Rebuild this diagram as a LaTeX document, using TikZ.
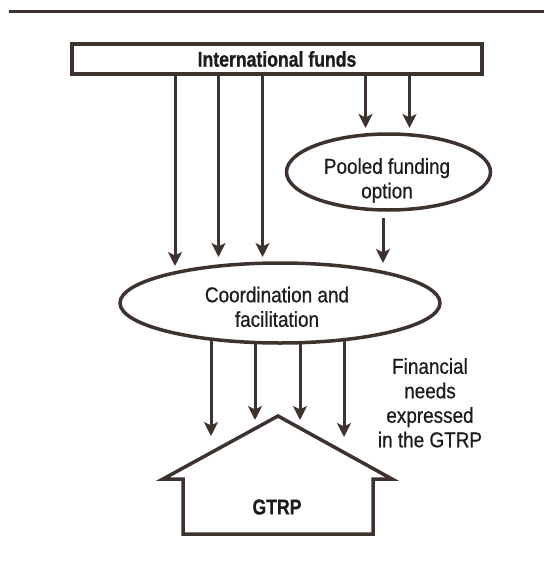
\documentclass[tikz,border=0pt]{standalone}
\usepackage{fontspec}
\setmainfont{Liberation Sans}[FakeStretch=0.88, FakeBold=0.6, BoldFeatures={FakeStretch=0.82, FakeBold=0.8}]
\usetikzlibrary{arrows.meta,backgrounds,shapes.geometric}
\definecolor{ln}{HTML}{3E322E}
\definecolor{tx}{HTML}{1F1B1C}
\tikzset{
  every node/.style={text=tx, font=\fontsize{21.5}{24.5}\selectfont},
  arr/.style={draw=ln, line width=3pt, -{Stealth[length=14pt,width=14pt,inset=3.5pt]}},
  outline/.style={draw=ln, line width=3.5pt},
  oval/.style={ellipse, outline, fill=white, inner sep=0pt},
  txt/.style={align=center, inner sep=0pt, anchor=north},
}
\begin{document}
\begin{tikzpicture}[x=1pt, y=-1pt]
\path[use as bounding box] (0,0) rectangle (544,562);
% top rule
\coordinate (ruleL) at (8.5,11.5);
\coordinate (ruleR) at (544,11.5);
\draw[ln, line width=3.5pt] (ruleL) -- (ruleR);

% boxes and ovals
\node[outline, fill=white, minimum width=410pt, minimum height=30pt, inner sep=0pt] (intl) at (277,59) {\bfseries International funds};
\node[oval, minimum width=204pt, minimum height=76pt] (pooled) at (388.5,172) {};
\node[txt] (pooledtxt) at (387,158) {Pooled funding\\option};
\node[oval, minimum width=320pt, minimum height=80pt] (coord) at (280,303) {};
\node[txt] (coordtxt) at (277,286.5) {Coordination and\\facilitation};

% house
\coordinate (peak) at (278,416);
\coordinate (eaveL) at (163,479);
\coordinate (wallLt) at (183,479);
\coordinate (wallLb) at (183,534);
\coordinate (wallRb) at (373,534);
\coordinate (wallRt) at (373,479);
\coordinate (eaveR) at (392,479);
\draw[outline, miter limit=20] (wallLt) -- (eaveL) -- (peak) -- (eaveR) -- (wallRt) -- (wallRb) -- (wallLb) -- cycle;
\node[font=\fontsize{21.5}{24.5}\selectfont\bfseries] (gtrp) at (277,507) {GTRP};

% label
\node[txt] (need) at (430,358) {Financial\\needs\\expressed\\in the GTRP};

% arrows from international funds
\coordinate (a1) at (175,266);
\coordinate (a2) at (218.5,257);
\coordinate (a3) at (262.5,257);
\coordinate (a4) at (365.5,128);
\coordinate (a5) at (409.5,128);
\draw[arr] (intl.south -| a1) -- (a1);
\draw[arr] (intl.south -| a2) -- (a2);
\draw[arr] (intl.south -| a3) -- (a3);
\draw[arr] (intl.south -| a4) -- (a4);
\draw[arr] (intl.south -| a5) -- (a5);

% pooled to coordination
\coordinate (p3s) at (383,218);
\coordinate (p3) at (383,263);
\draw[arr] (p3s) -- (p3);

% coordination to house
\coordinate (t1) at (211,436);
\coordinate (t2) at (255,420);
\coordinate (t3) at (300,420);
\coordinate (t4) at (344,437);
\begin{pgfonlayer}{background}
\draw[arr] (coord.center -| t1) -- (t1);
\draw[arr] (coord.center -| t2) -- (t2);
\draw[arr] (coord.center -| t3) -- (t3);
\draw[arr] (coord.center -| t4) -- (t4);
\end{pgfonlayer}
\end{tikzpicture}
\end{document}
